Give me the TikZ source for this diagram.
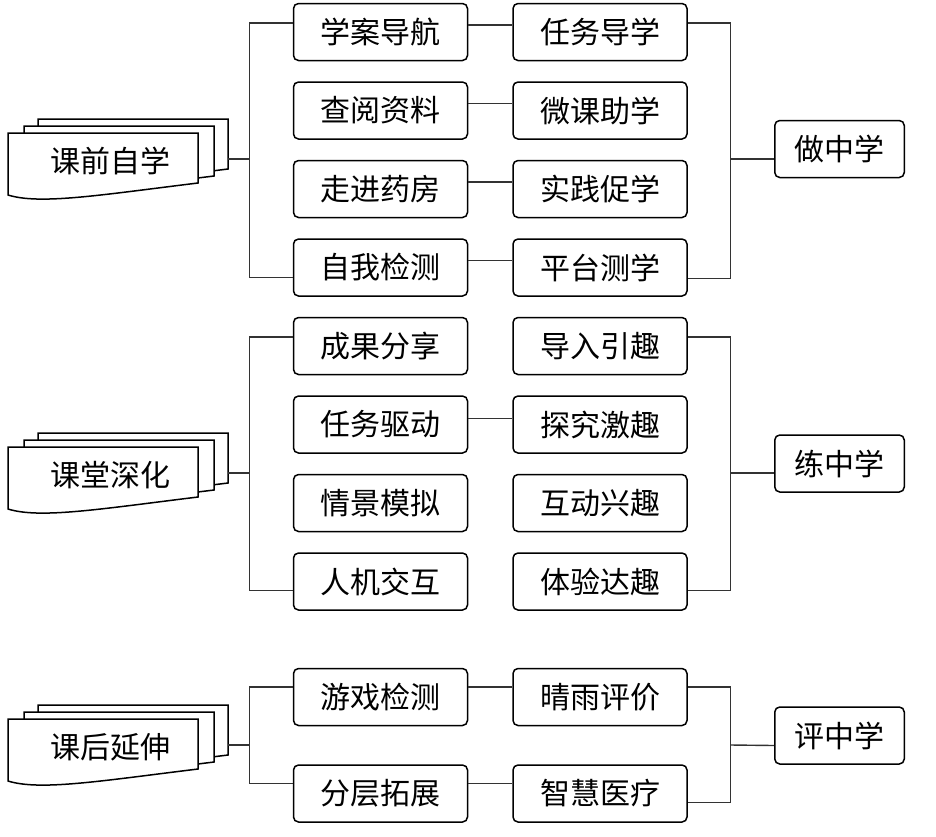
\documentclass[tikz,border=0pt]{standalone}
\usepackage{fontspec}
\usepackage{xcolor}
\usepackage{tikz}
\usetikzlibrary{positioning}
\newfontfamily\cjk{Noto Sans CJK SC}

% stack of three sheets with a label; #1 name, #2 top-left corner, #3 text
\newcommand{\docstack}[3]{%
  \begin{scope}[shift={#2}]
    \foreach \dx/\dy in {30/14, 16/7, 0/0}
      \draw[sheet, shift={(\dx,\dy)}] (0,0) -- (190,0) -- (190,-50)
        .. controls (92,-62) and (32,-72) .. (0,-62) -- cycle;
    \node[doctext] (#1) at (102,-28) {#3};
    \coordinate (#1-r) at (220,-26);
  \end{scope}}

\begin{document}
\begin{tikzpicture}[
        x=1pt, y=1pt,
        box/.style={rectangle, rounded corners=5pt, draw=black, line width=1.5pt, fill=white,
                    minimum width=174pt, minimum height=57pt, inner sep=0pt,
                    font=\cjk\fontsize{30pt}{32pt}\selectfont},
        res/.style={box, minimum width=129.5pt},
        sheet/.style={draw=black, line width=1.5pt, fill=white},
        doctext/.style={inner sep=0pt, font=\cjk\fontsize{30pt}{32pt}\selectfont},
        link/.style={line width=1.4pt, color=black!80}
      ]
      \useasboundingbox (0,0) rectangle (936,-836);

      % section 1
      \docstack{pre}{(8,-133)}{课前自学}
      \node[box] (a1) at (380.5,-32) {学案导航};
      \node[box, below=20pt of a1] (a2) {查阅资料};
      \node[box, below=20pt of a2] (a3) {走进药房};
      \node[box, below=20pt of a3] (a4) {自我检测};
      \node[box, right=44pt of a1] (b1) {任务导学};
      \node[box, right=44pt of a2] (b2) {微课助学};
      \node[box, right=44pt of a3] (b3) {实践促学};
      \node[box, right=44pt of a4] (b4) {平台测学};
      \node[res] (zuo) at (839.5,-149) {做中学};

      \foreach \i in {1,...,4}
        \draw[link] ([yshift=7pt]a\i.east) -- ([yshift=7pt]b\i.west);
      \draw[link] ([yshift=9pt]a1.west) -- ++(-43,0) coordinate (barL1) |- ([yshift=-10pt]a4.west);
      \draw[link] (pre-r) -- (pre-r -| barL1);
      \draw[link] ([yshift=9pt]b1.east) -- ++(43,0) coordinate (barR1) |- ([yshift=-11pt]b4.east);
      \draw[link] (barR1 |- pre-r) -- ([yshift=-10pt]zuo.west);

      % section 2
      \docstack{cls}{(8,-447)}{课堂深化}
      \node[box] (a5) at (380.5,-346) {成果分享};
      \node[box, below=20pt of a5] (a6) {任务驱动};
      \node[box, below=20pt of a6] (a7) {情景模拟};
      \node[box, below=20pt of a7] (a8) {人机交互};
      \node[box, right=44pt of a5] (b5) {导入引趣};
      \node[box, right=44pt of a6] (b6) {探究激趣};
      \node[box, right=44pt of a7] (b7) {互动兴趣};
      \node[box, right=44pt of a8] (b8) {体验达趣};
      \node[res] (lian) at (839.5,-463.5) {练中学};

      \draw[link] ([yshift=6pt]a6.east) -- ([yshift=6pt]b6.west);
      \draw[link] ([yshift=9pt]a5.west) -- ++(-43,0) coordinate (barL2) |- ([yshift=-9pt]a8.west);
      \draw[link] (cls-r) -- (cls-r -| barL2);
      \draw[link] ([yshift=9pt]b5.east) -- ++(43,0) coordinate (barR2) |- ([yshift=-9pt]b8.east);
      \draw[link] (barR2 |- cls-r) -- ([yshift=-9.5pt]lian.west);

      % section 3
      \docstack{post}{(8,-719)}{课后延伸}
      \node[box] (c1) at (380.5,-697) {游戏检测};
      \node[box, below=38pt of c1] (c2) {分层拓展};
      \node[box, right=44pt of c1] (d1) {晴雨评价};
      \node[box, right=44pt of c2] (d2) {智慧医疗};
      \node[res] (ping) at (839.5,-735.5) {评中学};

      \draw[link] ([yshift=10pt]c1.east) -- ([yshift=10pt]d1.west);
      \draw[link] ([yshift=10pt]c2.east) -- ([yshift=10pt]d2.west);
      \draw[link] ([yshift=10pt]c1.west) -- ++(-43,0) coordinate (barL3) |- ([yshift=10pt]c2.west);
      \draw[link] (post-r) -- (post-r -| barL3);
      \draw[link] ([yshift=10pt]d1.east) -- ++(43,0) coordinate (barR3) |- ([yshift=-9pt]d2.east);
      \draw[link] (barR3 |- post-r) -- ([yshift=-10pt]ping.west);
    \end{tikzpicture}
\end{document}
